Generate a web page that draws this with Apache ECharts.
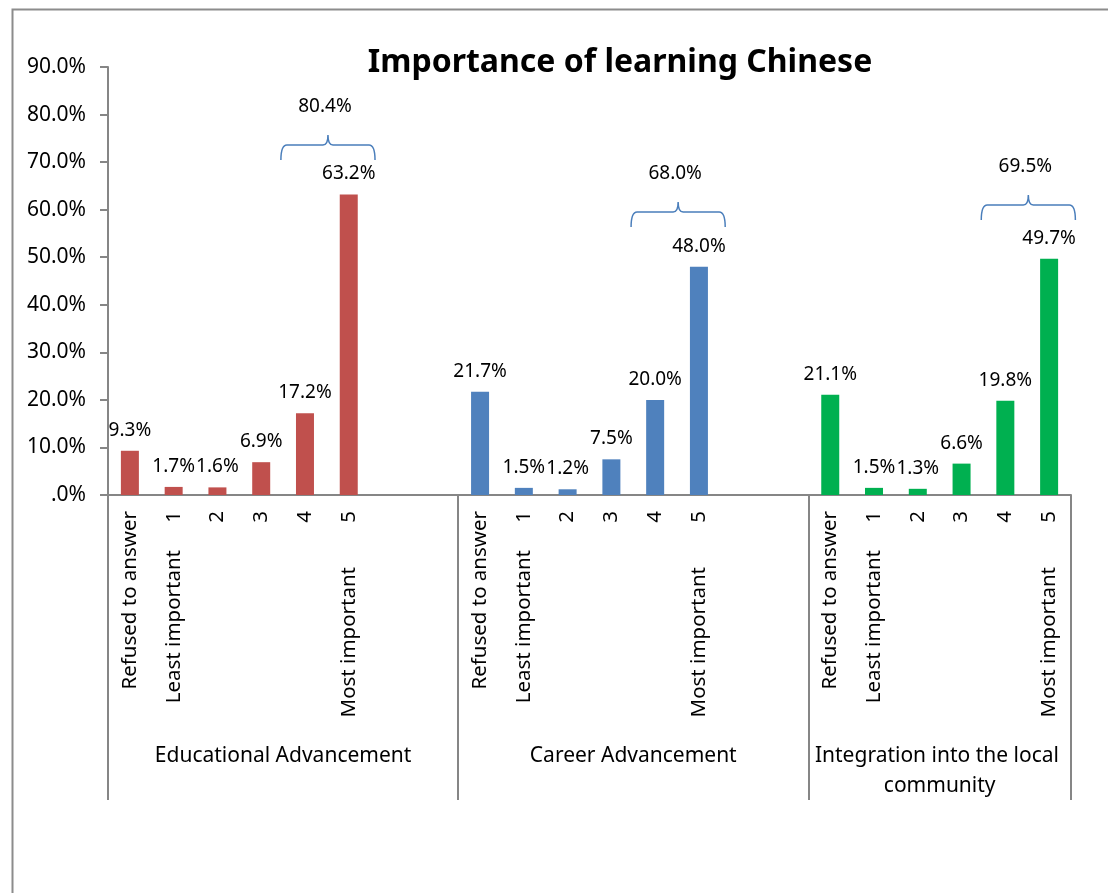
<!DOCTYPE html>
<html>
<head>
<meta charset="utf-8">
<title>Importance of learning Chinese</title>
<script src="https://cdn.jsdelivr.net/npm/echarts@6/dist/echarts.min.js"></script>
<style>
  html, body { margin: 0; padding: 0; background: #fff; }
  #chart { width: 1108px; height: 893px; }
</style>
</head>
<body>
<div id="chart"></div>
<script>
// first level labels (under every bar), second level (only under 1 and 5)
const answerLabels = ['Refused to answer', '1', '2', '3', '4', '5'];
const scaleLabels = ['', 'Least important', '', '', '', 'Most important'];
const groupNames = ['Educational Advancement', 'Career Advancement', 'Integration into the local community'];
// slots each group takes on the axis (the two first have 2 empty ones)
const groupSlots = [8, 8, 6];

const educational = [9.3, 1.7, 1.6, 6.9, 17.2, 63.2];
const career = [21.7, 1.5, 1.2, 7.5, 20.0, 48.0];
const integration = [21.1, 1.5, 1.3, 6.6, 19.8, 49.7];

// where the braces over "4" + "5" sit (in %)
const braceLevels = [73.6, 59.5, 61.0];

const FONT = 'Noto Sans';
const AXIS_GREY = '#868686';

// build the 22 slots of the category axis
const groupStart = [];
const slotKeys = [];
const level1 = [];
const level2 = [];
let pos = 0;
groupSlots.forEach((n, g) => {
  groupStart.push(pos);
  for (let i = 0; i < n; i++) {
    slotKeys.push(g + '-' + i);
    level1.push(answerLabels[i] || '');
    level2.push(scaleLabels[i] || '');
  }
  pos += n;
});
const totalSlots = pos;
const groupBounds = groupStart.concat([totalSlots]);
const groupCenters = groupStart.map((s, g) => s + groupSlots[g] / 2);

function spread(values, g) {
  const out = new Array(totalSlots).fill(null);
  values.forEach((v, i) => { out[groupStart[g] + i] = v; });
  return out;
}

const groups = [
  { name: groupNames[0], values: educational, color: '#C0504D' },
  { name: groupNames[1], values: career, color: '#4F81BD' },
  { name: groupNames[2], values: integration, color: '#00B050' }
];

const barSeries = groups.map((grp, g) => ({
  name: grp.name,
  type: 'bar',
  data: spread(grp.values, g),
  barWidth: 18,
  barGap: '-100%',
  itemStyle: { color: grp.color },
  label: {
    show: true,
    position: 'top',
    distance: 11,
    fontFamily: FONT,
    fontSize: 19,
    color: '#000',
    formatter: p => p.value.toFixed(1) + '%'
  }
}));

// brace over the two highest answers, with their sum above
const braceData = groups.map((grp, g) => [
  groupStart[g] + 4,
  groupStart[g] + 5,
  braceLevels[g],
  +(grp.values[4] + grp.values[5]).toFixed(1)
]);

const braceSeries = {
  type: 'custom',
  name: 'top2',
  data: braceData,
  encode: { x: 0, y: 2 },
  silent: true,
  renderItem(params, api) {
    const a = api.coord([api.value(0), api.value(2)]);
    const b = api.coord([api.value(1), api.value(2)]);
    const w = api.size([1, 0])[0];
    const x0 = a[0] - 0.55 * w;
    const x1 = b[0] + 0.6 * w;
    const y = a[1];
    const xm = (x0 + x1) / 2;
    const d = [
      'M', x0, y + 15,
      'Q', x0, y, x0 + 6, y,
      'L', xm - 5, y,
      'Q', xm, y, xm, y - 10,
      'Q', xm, y, xm + 5, y,
      'L', x1 - 6, y,
      'Q', x1, y, x1, y + 15
    ].join(' ');
    return {
      type: 'group',
      children: [
        {
          type: 'path',
          shape: { pathData: d },
          style: { fill: 'none', stroke: '#4A7EBB', lineWidth: 1.5 }
        },
        {
          type: 'text',
          style: {
            text: api.value(3).toFixed(1) + '%',
            x: xm - 3,
            y: y - 38,
            align: 'center',
            verticalAlign: 'middle',
            fontFamily: FONT,
            fontSize: 19,
            fill: '#000'
          }
        }
      ]
    };
  }
};

const chart = echarts.init(document.getElementById('chart'));
chart.setOption({
  animation: false,
  title: {
    text: 'Importance of learning Chinese',
    left: 615,
    top: 42,
    textAlign: 'center',
    textStyle: { fontFamily: FONT, fontSize: 32, fontWeight: 'bold', color: '#000' }
  },
  graphic: [{
    type: 'rect',
    left: 10,
    top: 7,
    z: -10,
    shape: { width: 1300, height: 1000 },
    style: { fill: 'none', stroke: '#8c8c8c', lineWidth: 2 }
  }],
  grid: { left: 108, right: 37, top: 67, bottom: 398 },
  xAxis: [
    {
      type: 'category',
      data: slotKeys,
      axisLine: { onZero: false, lineStyle: { color: AXIS_GREY, width: 2 } },
      axisTick: { show: false },
      axisLabel: {
        interval: 0,
        rotate: 90,
        margin: 16,
        fontFamily: FONT,
        fontSize: 20.5,
        color: '#000',
        formatter: (v, i) => level1[i]
      }
    },
    {
      type: 'category',
      data: slotKeys,
      position: 'bottom',
      axisLine: { show: false },
      axisTick: { show: false },
      axisLabel: {
        interval: 0,
        rotate: 90,
        margin: 55,
        fontFamily: FONT,
        fontSize: 20.5,
        color: '#000',
        formatter: (v, i) => level2[i] === 'Most important' ? '{far|' + level2[i] + '}' : level2[i],
        rich: { far: { fontFamily: FONT, fontSize: 20.5, color: '#000', padding: [0, 17, 0, 0] } }
      }
    },
    {
      type: 'value',
      position: 'bottom',
      min: 0,
      max: totalSlots,
      axisLine: { show: false },
      splitLine: { show: false },
      axisTick: {
        show: true,
        inside: false,
        length: 305,
        customValues: groupBounds,
        lineStyle: { color: AXIS_GREY, width: 2 }
      },
      axisLabel: {
        margin: 246,
        customValues: groupCenters,
        fontFamily: FONT,
        fontSize: 21,
        color: '#000',
        lineHeight: 30,
        width: 275,
        overflow: 'break',
        formatter: v => groupNames[groupCenters.indexOf(v)] || ''
      }
    }
  ],
  yAxis: {
    type: 'value',
    min: 0,
    max: 90,
    interval: 10,
    splitLine: { show: false },
    axisLine: { show: true, lineStyle: { color: AXIS_GREY, width: 2 } },
    axisTick: { show: true, length: 8, lineStyle: { color: AXIS_GREY, width: 2 } },
    axisLabel: {
      margin: 22,
      fontFamily: FONT,
      fontSize: 21,
      color: '#000',
      formatter: v => (v === 0 ? '.0%' : v.toFixed(1) + '%')
    }
  },
  series: barSeries.concat([braceSeries])
});
</script>
</body>
</html>
